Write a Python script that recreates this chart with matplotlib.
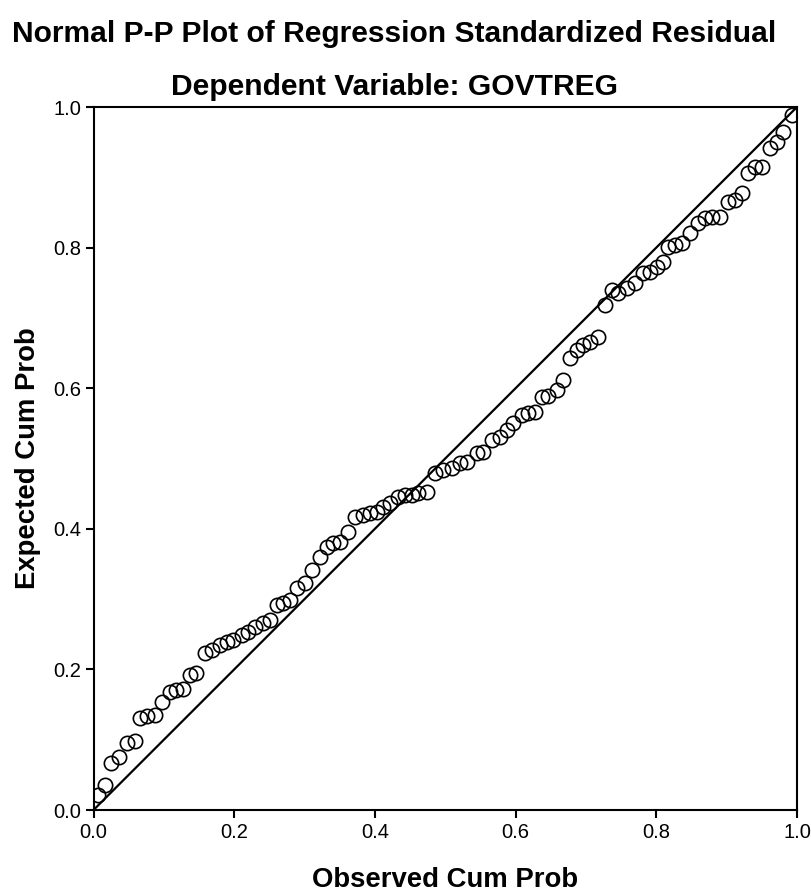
import matplotlib
matplotlib.use("Agg")
import matplotlib.pyplot as plt

plt.rcParams['font.family'] = ['Liberation Sans', 'DejaVu Sans']

title = "Normal P-P Plot of Regression Standardized Residual"
subtitle = "Dependent Variable: GOVTREG"
xlabel = "Observed Cum Prob"
ylabel = "Expected Cum Prob"
ticks = [0.0, 0.2, 0.4, 0.6, 0.8, 1.0]
tick_labels = ["0.0", "0.2", "0.4", "0.6", "0.8", "1.0"]

observed = [0.006, 0.016, 0.025, 0.036, 0.048, 0.059, 0.066, 0.076, 0.087, 0.097,
            0.109, 0.117, 0.127, 0.137, 0.146, 0.158, 0.168, 0.180, 0.190, 0.198,
            0.211, 0.220, 0.230, 0.241, 0.251, 0.261, 0.269, 0.279, 0.289, 0.301,
            0.311, 0.322, 0.332, 0.340, 0.350, 0.362, 0.372, 0.383, 0.393, 0.403,
            0.412, 0.421, 0.433, 0.443, 0.453, 0.461, 0.474, 0.485, 0.497, 0.509,
            0.521, 0.531, 0.545, 0.554, 0.566, 0.578, 0.588, 0.596, 0.609, 0.618,
            0.628, 0.638, 0.646, 0.659, 0.667, 0.677, 0.687, 0.696, 0.706, 0.717,
            0.727, 0.737, 0.746, 0.758, 0.770, 0.781, 0.791, 0.801, 0.810, 0.817,
            0.827, 0.836, 0.848, 0.859, 0.869, 0.879, 0.890, 0.902, 0.912, 0.922,
            0.930, 0.940, 0.950, 0.962, 0.972, 0.980, 0.993]

expected = [0.021, 0.036, 0.067, 0.075, 0.095, 0.098, 0.131, 0.134, 0.135, 0.154,
            0.168, 0.171, 0.172, 0.192, 0.195, 0.223, 0.228, 0.235, 0.239, 0.242,
            0.249, 0.253, 0.260, 0.266, 0.270, 0.292, 0.294, 0.299, 0.316, 0.323,
            0.341, 0.360, 0.374, 0.380, 0.381, 0.395, 0.417, 0.420, 0.422, 0.424,
            0.431, 0.437, 0.445, 0.448, 0.448, 0.451, 0.452, 0.479, 0.484, 0.486,
            0.494, 0.495, 0.508, 0.509, 0.526, 0.531, 0.541, 0.551, 0.562, 0.565,
            0.566, 0.587, 0.589, 0.597, 0.612, 0.643, 0.654, 0.661, 0.666, 0.673,
            0.718, 0.740, 0.735, 0.743, 0.750, 0.764, 0.765, 0.772, 0.779, 0.801,
            0.804, 0.807, 0.821, 0.835, 0.842, 0.844, 0.844, 0.865, 0.868, 0.878,
            0.906, 0.915, 0.915, 0.942, 0.950, 0.964, 0.989]

diag = [0.0, 1.0]

fig = plt.figure(figsize=(8.11, 8.91), dpi=100)
ax = fig.add_axes([0.1153, 0.0909, 0.8674, 0.789])

ax.plot(diag, diag, color='black', linewidth=1.6, zorder=2)
ax.plot(observed, expected, linestyle='none', marker='o', markersize=10.3,
        markerfacecolor='none', markeredgecolor='black', markeredgewidth=1.2, zorder=3)

ax.set_xlim(0, 1)
ax.set_ylim(0, 1)
ax.set_xticks(ticks)
ax.set_xticklabels(tick_labels)
ax.set_yticks(ticks)
ax.set_yticklabels(tick_labels)
ax.tick_params(direction='out', length=6, width=1.5, labelsize=14.5, pad=3)
for s in ax.spines.values():
    s.set_linewidth(1.5)

ax.set_xlabel(xlabel, fontsize=19.8, fontweight='bold', labelpad=18)
ax.set_ylabel(ylabel, fontsize=19.8, fontweight='bold', labelpad=9)

fig.text(0.4865, 0.962, title, fontsize=21.6, fontweight='bold', ha='center', va='center')
fig.text(0.486, 0.902, subtitle, fontsize=21.6, fontweight='bold', ha='center', va='center')

fig.savefig("out.png", dpi=100)
